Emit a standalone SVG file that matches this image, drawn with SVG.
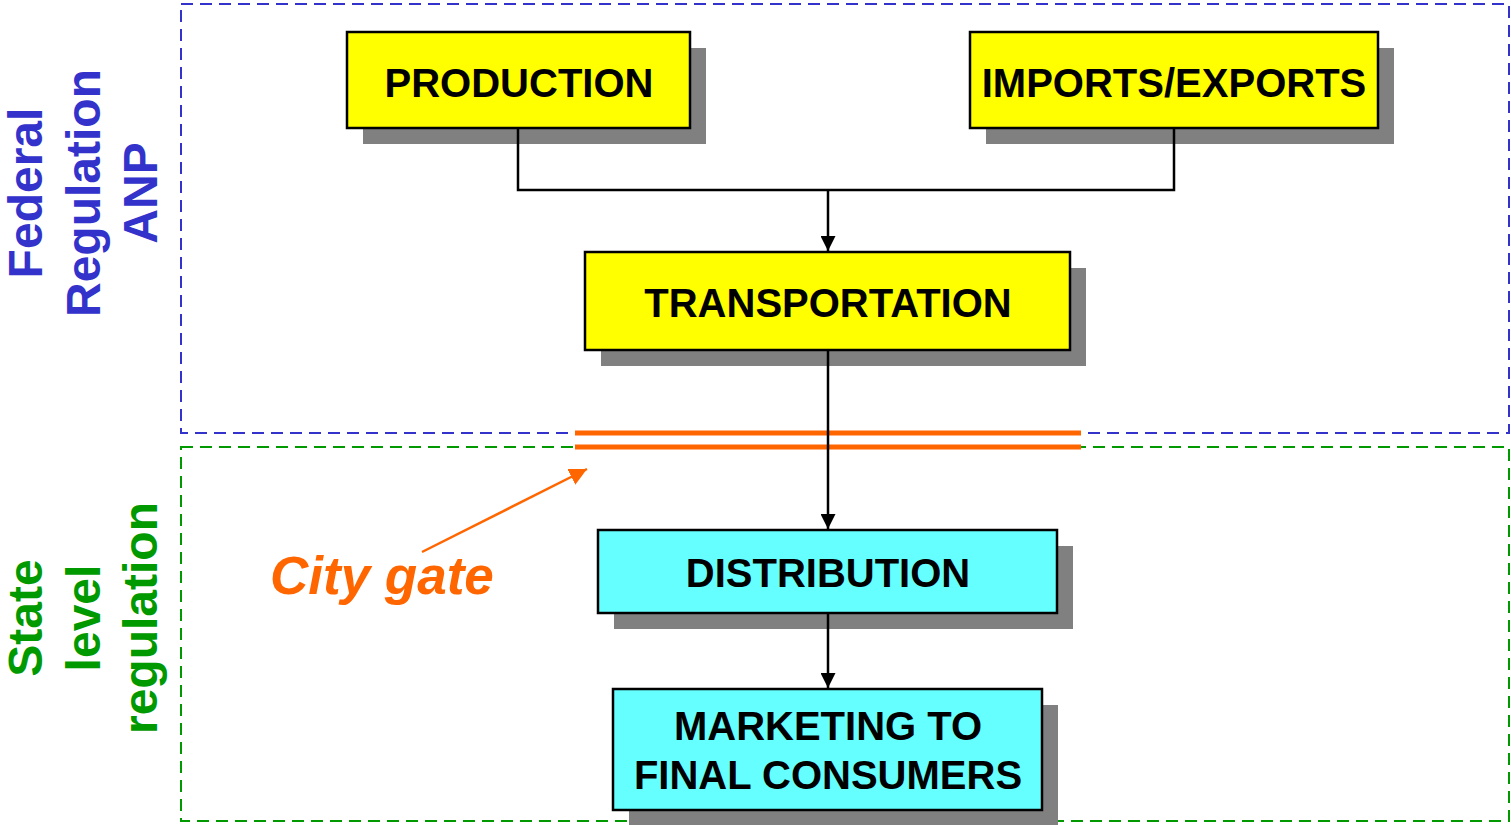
<svg xmlns="http://www.w3.org/2000/svg" width="1511" height="825" viewBox="0 0 1511 825">
<style>
.box{stroke:#000;stroke-width:2.5}
.y{fill:#FFFF00}
.c{fill:#66FFFF}
.sh{fill:#808080}
.t{font-family:"Liberation Sans",Arial,sans-serif;font-weight:bold;font-size:40px;fill:#000;text-anchor:middle}
.side{font-family:"Liberation Sans",Arial,sans-serif;font-weight:bold;font-size:48px;text-anchor:middle}
.conn{stroke:#000;stroke-width:2.5;fill:none}
</style>
<defs>
<marker id="ah" viewBox="0 0 10 10" refX="10" refY="5" markerWidth="6" markerHeight="6" markerUnits="strokeWidth" orient="auto">
<path d="M0,0 L10,5 L0,10 Z" fill="#000"/>
</marker>
<marker id="oh" viewBox="0 0 10 10" refX="10" refY="5" markerWidth="7" markerHeight="7" markerUnits="strokeWidth" orient="auto">
<path d="M0,0 L10,5 L0,10 Z" fill="#FF6600"/>
</marker>
</defs>
<rect width="1511" height="825" fill="#fff"/>
<g id="regions">
<rect x="181" y="4" width="1328" height="429" fill="none" stroke="#3333CC" stroke-width="2" stroke-dasharray="12 7"/>
<rect x="181" y="447" width="1328" height="374" fill="none" stroke="#009900" stroke-width="2" stroke-dasharray="12 7"/>
</g>
<g id="labels">
<text class="side" fill="#3333CC" transform="translate(42,193) rotate(-90)">Federal</text>
<text class="side" fill="#3333CC" transform="translate(100,193) rotate(-90)">Regulation</text>
<text class="side" fill="#3333CC" transform="translate(157,193) rotate(-90)">ANP</text>
<text class="side" fill="#009900" transform="translate(42,618) rotate(-90)">State</text>
<text class="side" fill="#009900" transform="translate(100,618) rotate(-90)">level</text>
<text class="side" fill="#009900" transform="translate(157,618) rotate(-90)">regulation</text>
</g>
<g id="citygate">
<line x1="575" y1="433" x2="1081" y2="433" stroke="#FF6600" stroke-width="5"/>
<line x1="575" y1="447" x2="1081" y2="447" stroke="#FF6600" stroke-width="5"/>
<line x1="422" y1="552" x2="587" y2="469" stroke="#FF6600" stroke-width="2.5" marker-end="url(#oh)"/>
<text x="270" y="594" font-family="'Liberation Sans',Arial,sans-serif" font-weight="bold" font-style="italic" font-size="53" fill="#FF6600">City gate</text>
</g>
<g id="production">
<rect class="sh" x="363" y="48" width="343" height="96"/>
<rect class="box y" x="347" y="32" width="343" height="96"/>
<text class="t" x="519" y="97">PRODUCTION</text>
</g>
<g id="imports">
<rect class="sh" x="986" y="48" width="408" height="96"/>
<rect class="box y" x="970" y="32" width="408" height="96"/>
<text class="t" x="1174" y="97">IMPORTS/EXPORTS</text>
</g>
<g id="transportation">
<rect class="sh" x="601" y="268" width="485" height="98"/>
<rect class="box y" x="585" y="252" width="485" height="98"/>
<text class="t" x="828" y="317">TRANSPORTATION</text>
</g>
<g id="distribution">
<rect class="sh" x="614" y="546" width="459" height="83"/>
<rect class="box c" x="598" y="530" width="459" height="83"/>
<text class="t" x="828" y="587">DISTRIBUTION</text>
</g>
<g id="marketing">
<rect class="sh" x="629" y="705" width="429" height="120"/>
<rect class="box c" x="613" y="689" width="429" height="121"/>
<text class="t" x="828" y="740">MARKETING TO</text>
<text class="t" x="828" y="789">FINAL CONSUMERS</text>
</g>
<g id="connectors">
<path class="conn" d="M518,129 V190 H1174 V129"/>
<line class="conn" x1="828" y1="190" x2="828" y2="251" marker-end="url(#ah)"/>
<line class="conn" x1="828" y1="351" x2="828" y2="529" marker-end="url(#ah)"/>
<line class="conn" x1="828" y1="614" x2="828" y2="688" marker-end="url(#ah)"/>
</g>
</svg>
